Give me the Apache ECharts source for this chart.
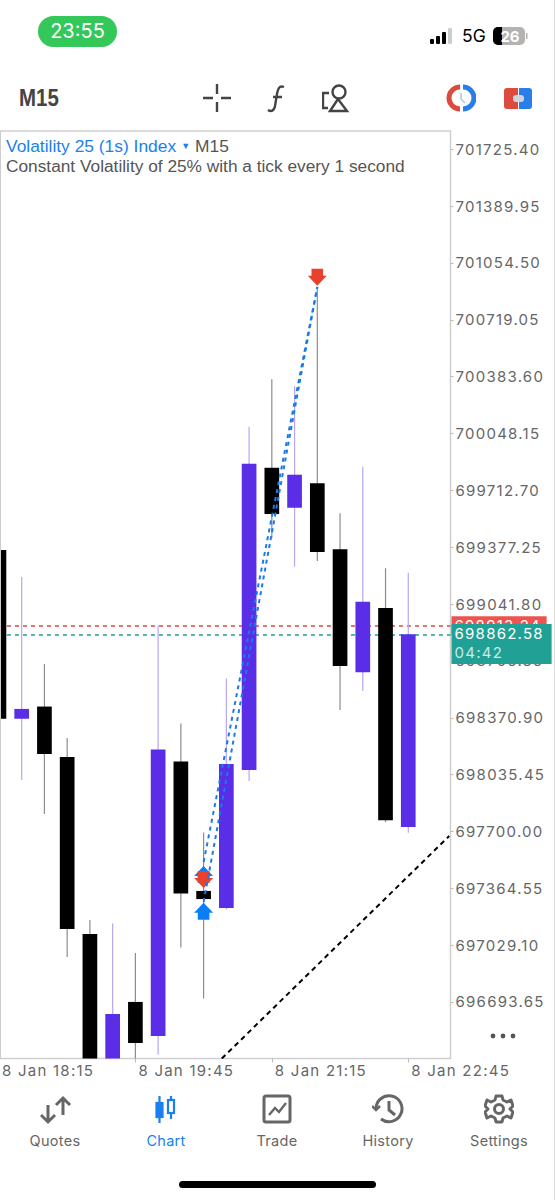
<!DOCTYPE html>
<html>
<head>
<meta charset="utf-8">
<script src="https://cdn.jsdelivr.net/npm/echarts@6/dist/echarts.min.js"></script>
<style>
  html, body { margin: 0; padding: 0; background: #fff; }
  #page { position: relative; width: 555px; height: 1200px; overflow: hidden; font-family: "Liberation Sans", sans-serif; }
  #main { position: absolute; left: 0; top: 0; width: 555px; height: 1200px; }
  #main svg text[style*="Inter"] { letter-spacing: 1.25px; }
  .ui { position: absolute; white-space: nowrap; }
  .ui svg { display: block; }
  .tab { position: absolute; top: 1132px; width: 90px; margin-left: -45px; text-align: center; font-size: 14.5px; line-height: 18px; color: #666; letter-spacing: .3px; font-family: Inter, sans-serif; }
</style>
</head>
<body>
<div id="page">
  <div id="main"></div>
  <div class="ui" style="left:0;top:131px;width:1px;height:928px;background:#ccc"></div>
  <div class="ui" style="left:554px;top:0;width:1px;height:1200px;background:#ddd"></div>

  <div class="ui" style="left:38px;top:16px;width:79px;height:31px;border-radius:16px;background:#34c759;color:#fff;font:20px/31px Inter,sans-serif;text-align:center">23:55</div>
  <div class="ui" style="left:430px;top:28px"><svg width="24" height="18"><rect x="0" y="11" width="4" height="5" rx="1" fill="#000"/><rect x="6" y="8" width="4" height="8" rx="1" fill="#000"/><rect x="12" y="4" width="4" height="12" rx="1" fill="#000"/><rect x="18" y="0" width="4" height="16" rx="1" fill="#ccc"/></svg></div>
  <div class="ui" style="left:462px;top:26px;font:17.5px/20px Inter,sans-serif;color:#000">5G</div>
  <div class="ui" style="left:493px;top:27px"><svg width="36" height="20"><rect x="0" y="0" width="32" height="18" rx="5" fill="#b3b3b3"/><path d="M5 0H9V18H5A5 5 0 0 1 0 13V5A5 5 0 0 1 5 0Z" fill="#000"/><rect x="33" y="6" width="1.5" height="6" fill="#b3b3b3"/><text x="17" y="14.5" font-size="15" font-family="Inter" font-weight="700" fill="#fff" text-anchor="middle">26</text></svg></div>

  <div class="ui" style="left:19px;top:84px;font:bold 23px/28px 'Liberation Sans',sans-serif;color:#444;transform:scaleX(.89);transform-origin:left center">M15</div>
  <div class="ui" style="left:203px;top:84px"><svg width="28" height="28" stroke="#444" stroke-width="2.4" fill="none"><path d="M0 14H10M18 14H28M14 0V10M14 18V28"/></svg></div>
  <div class="ui" style="left:266px;top:84px"><svg width="24" height="30" stroke="#444" stroke-width="2.4" fill="none"><path d="M18 3C13 1 12 5 11 10L9 22C8 27 5 28 2 26M7 13H16"/></svg></div>
  <div class="ui" style="left:322px;top:84px"><svg width="28" height="30" stroke="#444" stroke-width="2.4" fill="none"><path d="M7 9H1V24H6"/><circle cx="17" cy="8" r="6.5"/><path d="M16 15L8 27H25Z"/></svg></div>
  <div class="ui" style="left:446px;top:84px"><svg width="30" height="28" fill="none" stroke-width="5"><path d="M14 3A11 11 0 0 0 14 25" stroke="#dd4b3e"/><path d="M17 3A11 11 0 0 1 17 25" stroke="#2b7de9"/><path d="M15 9V15L19 19" stroke="#b9c4cf" stroke-width="1.5"/></svg></div>
  <div class="ui" style="left:504px;top:87px"><svg width="30" height="24"><path d="M3 1H14V22H3A3 3 0 0 1 0 19V4A3 3 0 0 1 3 1Z" fill="#dd4b3e"/><path d="M15 1H25A3 3 0 0 1 28 4V19A3 3 0 0 1 25 22H15Z" fill="#2b7de9"/><rect x="9" y="8" width="11" height="7" rx="3" fill="#cfd4da"/></svg></div>

  <div class="ui" style="left:40px;top:1095px"><svg width="32" height="30" stroke="#666" stroke-width="3" fill="none"><path d="M8 10V27M1 20L8 27L15 20"/><path d="M23 20V3M16 10L23 3L30 10"/></svg></div>
  <div class="ui" style="left:155px;top:1095px"><svg width="24" height="30" fill="#1a7ff0" stroke="#1a7ff0" stroke-width="2.2"><path d="M4.5 1V28M16 1V24" fill="none"/><rect x="1.5" y="8" width="6" height="14"/><rect x="13" y="5" width="6" height="13" fill="#fff"/></svg></div>
  <div class="ui" style="left:262px;top:1094px"><svg width="30" height="30" stroke="#666" stroke-width="3" fill="none"><rect x="2" y="2" width="26" height="26" rx="2"/><path d="M7 21L13 14L17 18L24 9" stroke-width="2.4"/></svg></div>
  <div class="ui" style="left:372px;top:1094px"><svg width="32" height="30" stroke="#666" stroke-width="3" fill="none"><path d="M4 15A13 13 0 1 1 9 25"/><path d="M0 12L4 16L8 12" stroke-width="2.5"/><path d="M17 7V16L23 21"/></svg></div>
  <div class="ui" style="left:484px;top:1094px"><svg width="30" height="30" stroke="#666" stroke-width="3" fill="none"><path d="M12 2H18L19 6L23 8L27 6L29 12L26 15L29 18L27 24L23 22L19 24L18 28H12L11 24L7 22L3 24L1 18L4 15L1 12L3 6L7 8L11 6Z" stroke-linejoin="round"/><circle cx="15" cy="15" r="4.5"/></svg></div>
  <div class="tab" style="left:55px">Quotes</div>
  <div class="tab" style="left:166px;color:#1a7ff0">Chart</div>
  <div class="tab" style="left:277px">Trade</div>
  <div class="tab" style="left:388px">History</div>
  <div class="tab" style="left:499px">Settings</div>
  <div class="ui" style="left:179px;top:1181px;width:197px;height:7px;border-radius:4px;background:#000"></div>
  <div class="ui" style="left:490px;top:1033px"><svg width="28" height="6" fill="#555"><circle cx="3" cy="3" r="2.4"/><circle cx="13" cy="3" r="2.4"/><circle cx="23" cy="3" r="2.4"/></svg></div>
</div>
<script>
var times = ['18:15','18:30','18:45','19:00','19:15','19:30','19:45','20:00','20:15','20:30','20:45','21:00','21:15','21:30','21:45','22:00','22:15','22:30','22:45'];
var opens = [699361,698365,698437,698139,697095,696257,696694,696493,698113,697349,697248,698063,699846,699610,699754,699365,698639,699019,697726];
var closes = [698365,698423,698157,697124,696263,696623,696452,698184,697334,697301,698098,699870,699573,699805,699349,698676,699056,697766,698863];
var lows = [698365,698004,697803,696959,696204,696180,696328,696384,697015,696714,697239,697998,699432,699262,699296,698417,698529,697756,697693];
var highs = [699361,699201,698688,698251,697178,697157,696983,698915,698337,697694,698603,700088,700368,700328,700913,699577,699852,699253,699227];

var priceTicks = [696693.65,697029.10,697364.55,697700.00,698035.45,698370.90,698706.35,699041.80,699377.25,699712.70,700048.15,700383.60,700719.05,701054.50,701389.95,701725.40];
var timeTicks = ['18:15','19:45','21:15','22:45'];

var bidPrice = 698913.24;
var askPrice = 698862.58;
var countdown = '04:42';

var buyTimes = ['20:30','20:30'];
var buyPrices = [697496,697280];
var sellTimes = ['20:30','21:45'];
var sellPrices = [697366,700920];
var tradeLineA = [['20:30',697520],['21:45',700913]];
var tradeLineB = [['20:30',697284],['21:45',700913]];
var trendLine = [['20:42',696360],['23:12',697673]];

var UP_ARROW = 'path://M9 0L18 9.5H14.5V16H3.5V9.5H0Z';
var DOWN_ARROW = 'path://M3.5 0H14.5V6.5H18L9 16L0 6.5H3.5Z';

function toMin(t) {
    var p = t.split(':');
    return p[0] * 60 + +p[1];
}
function pad(n) {
    return (n < 10 ? '0' : '') + n;
}
function xy(list) {
    return list.map(function (d) { return [toMin(d[0]), d[1]]; });
}

var candles = times.map(function (t, i) {
    return [toMin(t), opens[i], closes[i], lows[i], highs[i]];
});

function renderCandle(params, api) {
    var x = api.value(0), o = api.value(1), c = api.value(2);
    var up = c > o;
    var w = api.size([15, 0])[0] * 0.646;
    var top = api.coord([x, Math.max(o, c)]);
    var bot = api.coord([x, Math.min(o, c)]);
    var hi = api.coord([x, api.value(4)]);
    var lo = api.coord([x, api.value(3)]);
    return {
        type: 'group',
        children: [{
            type: 'line',
            shape: { x1: hi[0], y1: hi[1], x2: lo[0], y2: lo[1] },
            style: { stroke: up ? '#b9a5f2' : '#8c8c8c', lineWidth: 1.2 }
        }, {
            type: 'rect',
            shape: { x: top[0] - w / 2, y: top[1], width: w, height: bot[1] - top[1] },
            style: { fill: up ? '#5a2de6' : '#000' }
        }]
    };
}

function dashLine(points, color, dash) {
    return {
        type: 'line',
        data: xy(points),
        showSymbol: false,
        silent: true,
        z: 6,
        lineStyle: { color: color, width: 2, type: dash }
    };
}

var chart = echarts.init(document.getElementById('main'), null, { renderer: 'svg' });
chart.setOption({
    animation: false,
    backgroundColor: '#fff',
    title: {
        left: 1,
        top: 131,
        text: '{a|Volatility 25 (1s) Index} {b|▼} {c|M15}\n{d|Constant Volatility of 25% with a tick every 1 second}',
        textStyle: {
            fontWeight: 'normal',
            rich: {
                a: { color: '#1a7ff0', fontSize: 17.4, lineHeight: 20, fontWeight: 'normal', fontFamily: 'Liberation Sans' },
                b: { color: '#1a7ff0', fontSize: 9, lineHeight: 20, fontWeight: 'normal', fontFamily: 'Liberation Sans' },
                c: { color: '#555', fontSize: 17.4, lineHeight: 20, fontWeight: 'normal', fontFamily: 'Liberation Sans' },
                d: { color: '#555', fontSize: 17.3, lineHeight: 20, fontWeight: 'normal', fontFamily: 'Liberation Sans' }
            }
        }
    },
    grid: {
        show: true,
        left: -1.05,
        top: 131,
        width: 451.55,
        height: 927.5,
        outerBoundsMode: 'none',
        borderColor: '#cfcfcf',
        borderWidth: 1.5,
        backgroundColor: '#fff'
    },
    xAxis: {
        type: 'value',
        min: toMin('18:15'),
        max: 1392.86,
        splitLine: { show: false },
        axisLine: { show: false },
        axisTick: { length: 4, lineStyle: { color: '#bbb' }, customValues: timeTicks.map(toMin) },
        axisLabel: {
            customValues: timeTicks.map(toMin),
            showMinLabel: true,
            showMaxLabel: true,
            hideOverlap: false,
            align: 'left',
            margin: 4,
            padding: [0, 0, 0, 3],
            color: '#666',
            fontFamily: 'Inter',
            fontSize: 15,
            formatter: function (v) {
                return '8 Jan ' + pad(Math.floor(v / 60)) + ':' + pad(v % 60);
            }
        }
    },
    yAxis: {
        type: 'value',
        position: 'right',
        min: 696360.26,
        max: 701833.15,
        splitLine: { show: false },
        axisLine: { show: false },
        axisTick: { length: 3, lineStyle: { color: '#bbb' }, customValues: priceTicks },
        axisLabel: {
            customValues: priceTicks,
            hideOverlap: false,
            margin: 5,
            color: '#666',
            fontFamily: 'Inter',
            fontSize: 15,
            formatter: function (v) { return v.toFixed(2); }
        }
    },
    series: [{
        type: 'custom',
        data: candles,
        renderItem: renderCandle,
        encode: { x: 0, y: [1, 2, 3, 4] },
        clip: true,
        silent: true,
        z: 4,
        markLine: {
            silent: true,
            symbol: 'none',
            z: 2,
            animation: false,
            data: [{
                yAxis: bidPrice,
                lineStyle: { color: '#e8463a', type: [4, 4], width: 1.5 },
                label: {
                    position: 'end',
                    distance: 1,
                    align: 'left',
                    formatter: bidPrice.toFixed(2),
                    color: '#fff',
                    backgroundColor: '#ef5350',
                    fontFamily: 'Inter',
                    fontSize: 15,
                    padding: [2, 17, 2, 3]
                }
            }, {
                yAxis: askPrice,
                lineStyle: { color: '#1fa08f', type: [4, 4], width: 1.5 },
                label: {
                    position: 'end',
                    distance: 1,
                    align: 'left',
                    offset: [0, 9.6],
                    formatter: '{p|' + askPrice.toFixed(2) + '}\n{t|' + countdown + '}',
                    backgroundColor: '#21a195',
                    padding: [0, 19, 2, 3],
                    rich: {
                        p: { color: '#fff', fontFamily: 'Inter', fontSize: 15, lineHeight: 19 },
                        t: { color: '#c9ebe6', fontFamily: 'Inter', fontSize: 15, lineHeight: 19 }
                    }
                }
            }]
        }
    },
    dashLine(tradeLineA, '#1a7be8', [4, 4]),
    dashLine(tradeLineB, '#1a7be8', [4, 4]),
    dashLine(trendLine, '#000', [5, 4]),
    {
        type: 'scatter',
        data: buyTimes.map(function (t, i) { return [toMin(t), buyPrices[i]]; }),
        symbol: UP_ARROW,
        symbolSize: [19, 17],
        symbolOffset: [0, '50%'],
        itemStyle: { color: '#0a7ff5', opacity: 1 },
        silent: true,
        z: 5
    }, {
        type: 'scatter',
        data: sellTimes.map(function (t, i) { return [toMin(t), sellPrices[i]]; }),
        symbol: DOWN_ARROW,
        symbolSize: [19, 17],
        symbolOffset: [0, '-50%'],
        itemStyle: { color: '#e8412c', opacity: 1 },
        silent: true,
        z: 5
    }]
});
</script>
</body>
</html>
